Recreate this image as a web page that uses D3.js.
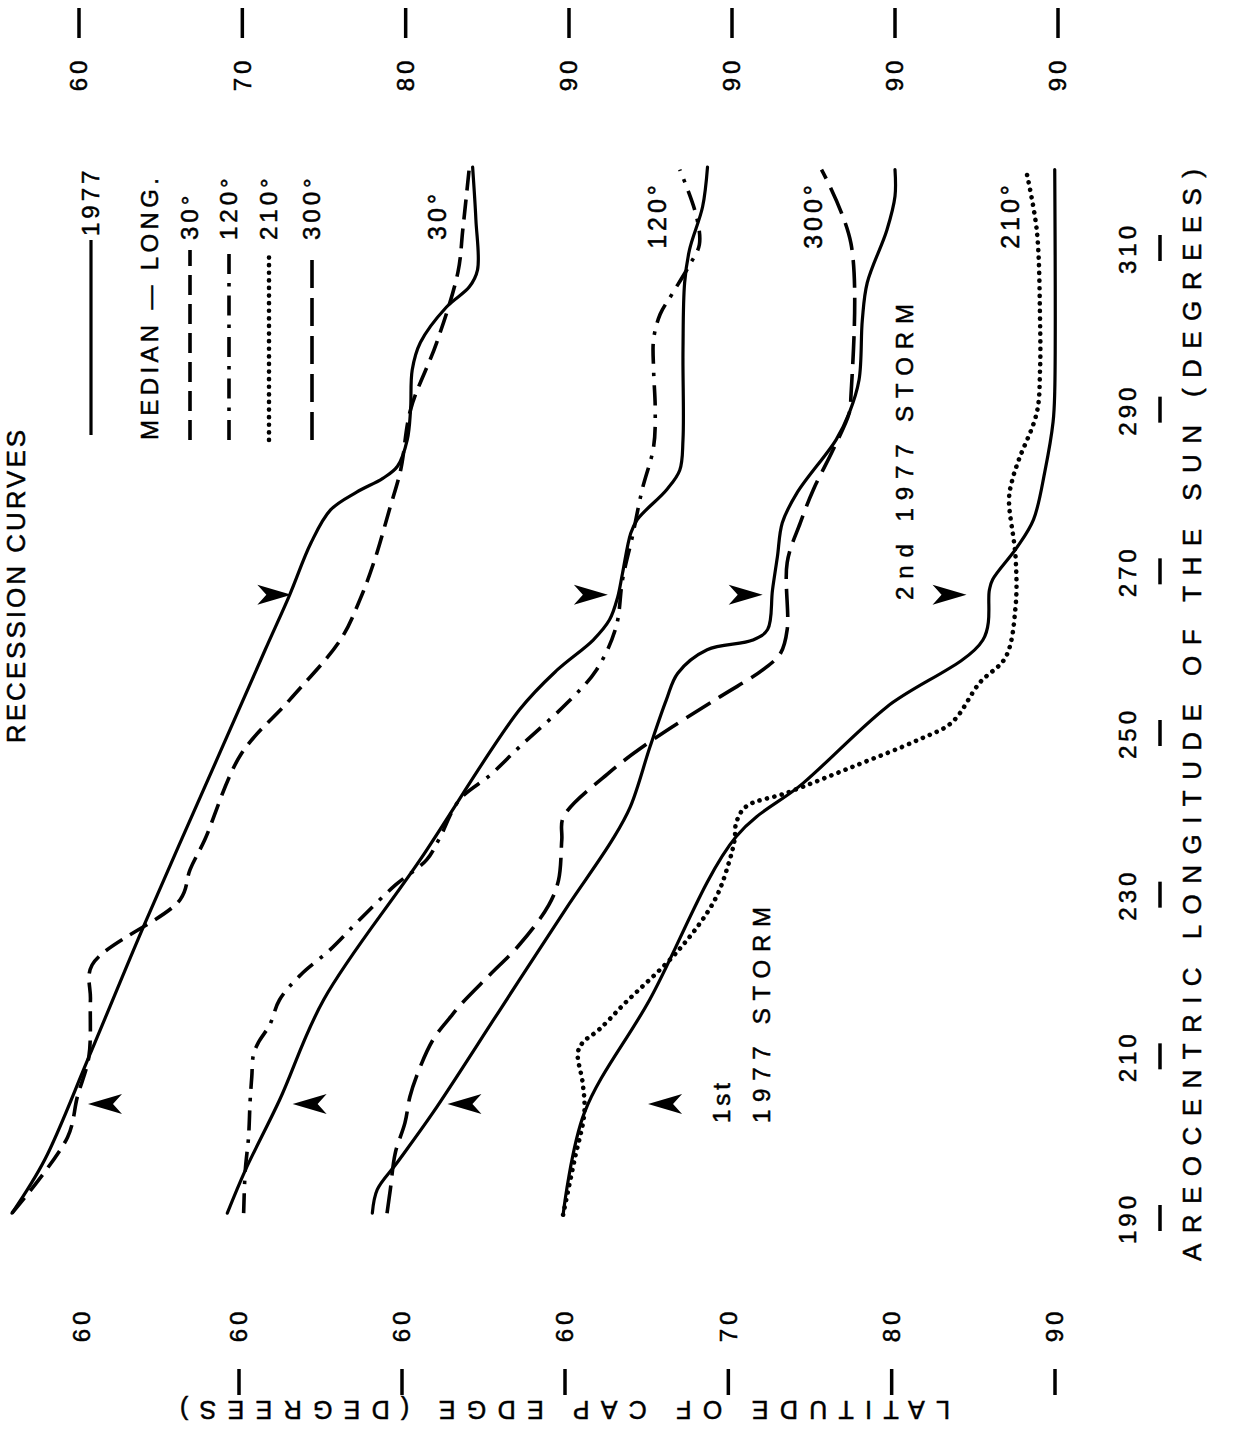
<!DOCTYPE html>
<html>
<head>
<meta charset="utf-8">
<script src="https://cdn.jsdelivr.net/npm/d3@7"></script>
<style>
  body { margin: 0; background: #fff; }
  svg text { font-family: "Liberation Sans", Arial, Helvetica, sans-serif; fill: #000; stroke: #000; stroke-width: 0.5px; }
</style>
</head>
<body>
<div id="chart"></div>
<script>
// ---- data: [Ls, latitude] pairs, one array per curve ----
// panel 0: 1977 vs median at 30 deg
var solid30 = [[190.6,55.9],[197.2,57.9],[209.9,60.6],[226.3,64.0],[247.9,68.7],[260.3,71.4],[267.1,72.9],
  [273.5,74.2],[277.6,75.4],[279.8,77.0],[281.5,78.6],[283.0,79.5],[286.3,80.1],[290.0,80.3],[294.9,80.4],[298.3,80.9],
  [302.7,82.5],[305.2,83.9],[307.3,84.4],[313.5,84.3],[320.0,84.1]];
var median30 = [[190.6,55.9],[200.0,59.3],[205.0,59.9],[209.9,60.6],[217.0,60.7],[221.3,60.8],[229.4,66.2],
  [233.1,66.8],[236.8,67.7],[247.3,69.9],[254.1,72.9],[261.5,76.0],[266.5,77.2],[271.4,78.1],[277.6,79.0],
  [282.6,79.7],[290.0,80.3],[298.3,81.9],[307.0,83.2],[312.3,83.5],[320.0,83.9]];
// panel 1: 1977 vs median at 120 deg
var solid120 = [[190.6,59.1],[195.9,60.2],[204.6,62.3],[217.0,65.0],[234.3,70.9],[252.9,77.0],[257.8,79.3],
  [261.5,81.5],[264.0,82.5],[266.8,83.0],[269.8,83.3],[274.7,83.8],[276.4,84.2],[280.1,86.0],[282.5,86.8],
  [286.3,87.0],[297.4,87.0],[305.7,87.1],[309.8,87.4],[315.1,88.2],[320.0,88.5]];
var median120 = [[190.6,60.1],[195.9,60.2],[200.0,60.4],[204.6,60.5],[207.5,60.6],[210.2,60.7],[211.7,61.0],
  [213.9,61.7],[217.0,62.3],[220.1,63.6],[223.2,65.4],[226.9,67.2],[231.2,69.4],[234.3,71.3],[237.0,72.1],
  [241.7,73.3],[244.8,75.2],[248.3,77.0],[253.7,79.9],[257.8,81.7],[263.1,82.9],[269.0,83.3],[274.3,83.9],
  [280.1,84.5],[285.4,85.2],[290.0,85.3],[294.9,85.2],[298.7,85.2],[301.8,85.6],[304.2,86.3],[307.9,87.4],
  [310.4,88.0],[314.1,87.8],[319.7,86.8]];
// panel 2: 1977 vs median at 300 deg
var solid300 = [[190.6,58.0],[193.5,58.3],[196.8,59.5],[203.0,61.7],[215.7,65.8],[228.1,69.8],[236.8,72.7],
  [240.9,73.8],[248.3,75.0],[254.1,76.0],[257.4,76.7],[260.3,78.5],[261.5,81.3],[262.8,82.2],[267.7,82.5],
  [271.8,82.8],[276.0,83.1],[279.7,84.0],[286.3,86.4],[289.6,87.2],[293.7,87.8],[301.1,88.0],[305.7,88.3],
  [312.2,89.5],[316.4,90.0],[319.7,90.0]];
var median300 = [[190.6,58.9],[193.5,59.1],[198.0,59.4],[201.8,60.0],[205.0,60.3],[207.5,60.7],[212.0,61.7],
  [214.9,62.8],[216.6,63.5],[220.1,65.2],[223.8,67.0],[228.7,68.8],[231.8,69.4],[236.8,69.6],[239.6,69.7],
  [245.1,72.5],[249.2,75.2],[254.5,79.3],[257.8,81.9],[259.9,83.0],[262.8,83.4],[271.1,83.4],[276.0,84.2],
  [280.1,85.0],[285.0,86.2],[289.6,87.2],[291.6,87.3],[310.6,87.3],[319.7,85.5]];
// panel 3: 1977 vs median at 210 deg
var solid210 = [[190.4,59.7],[203.0,61.0],[217.0,65.0],[237.2,70.3],[243.8,74.4],[253.2,79.5],[261.5,85.4],
  [267.7,85.8],[269.0,86.0],[273.0,87.5],[276.4,88.5],[282.4,89.2],[288.5,89.7],[292.2,89.8],[319.7,89.8]];
var median210 = [[190.4,59.7],[197.2,60.4],[203.0,61.0],[206.7,60.9],[210.4,60.6],[211.7,60.9],[213.3,61.9],
  [216.4,63.4],[223.2,66.8],[229.4,69.0],[234.3,69.9],[236.8,70.2],[238.9,70.3],[240.9,70.9],[242.6,73.4],
  [245.8,77.4],[249.2,81.5],[251.3,83.5],[256.2,85.2],[259.4,86.8],[265.6,87.4],[271.8,87.4],[278.9,87.0],
  [281.3,87.2],[283.8,87.6],[289.6,88.7],[294.9,88.9],[301.1,88.9],[312.2,88.7],[319.1,88.1]];

// storm markers: Ls of arrow, and latitude of the arrow tip in each panel
var storm1Ls = 204.1, storm1Tip = [60.55, 63.1, 62.6, 64.9];
var storm2Ls = 267.1, storm2Tip = [73.0, 82.4, 81.9, 84.4];

// axis ticks
var lsTicks = [190, 210, 230, 250, 270, 290, 310];
var topTicks = [[0,60],[0,70],[0,80],[0,90],[1,90],[2,90],[3,90]];      // [panel, latitude]
var bottomTicks = [[0,60],[1,60],[2,60],[3,60],[3,70],[3,80],[3,90]];
var curveLabels = ["30\u00b0", "120\u00b0", "300\u00b0", "210\u00b0"];
var legendLabels = ["30\u00b0", "120\u00b0", "210\u00b0", "300\u00b0"];

// ---- drawing ----
var width = 1233, height = 1430;
var panelShift = 163;

var svg = d3.select("#chart").append("svg")
  .attr("width", width)
  .attr("height", height);

var yLs = d3.scaleLinear().domain([190, 310]).range([1218, 248]);
var xLat = d3.scaleLinear().domain([60, 90]).range([79, 569]);
function px(panel, lat) { return xLat(lat) + panel * panelShift; }

var styles = {
  solid:   { dash: null,            width: 3.2, cap: "round" },
  d30:     { dash: "20,9",          width: 3.6, cap: "butt" },
  d120:    { dash: "20,9,3.5,9",    width: 3.6, cap: "butt" },
  d210:    { dash: "0.1,7.5",       width: 4.6, cap: "round" },
  d300:    { dash: "28,10",         width: 3.6, cap: "butt" }
};

var series = [
  { panel: 0, data: solid30,   style: "solid" },
  { panel: 0, data: median30,  style: "d30" },
  { panel: 1, data: solid120,  style: "solid" },
  { panel: 1, data: median120, style: "d120" },
  { panel: 2, data: solid300,  style: "solid" },
  { panel: 2, data: median300, style: "d300" },
  { panel: 3, data: solid210,  style: "solid" },
  { panel: 3, data: median210, style: "d210" }
];

series.forEach(function(s) {
  var st = styles[s.style];
  var line = d3.line()
    .x(function(d) { return px(s.panel, d[1]); })
    .y(function(d) { return yLs(d[0]); })
    .curve(d3.curveCatmullRom.alpha(0.5));
  svg.append("path")
    .attr("d", line(s.data))
    .attr("fill", "none")
    .attr("stroke", "#000")
    .attr("stroke-width", st.width)
    .attr("stroke-linecap", st.cap)
    .attr("stroke-linejoin", "round")
    .attr("stroke-dasharray", st.dash);
});

// arrowheads (barbed)
function arrow(x, y, dir) {
  // dir = 1 points right, -1 points left
  var p = [[0,0],[-34,-10],[-25,0],[-34,10]].map(function(q) { return [x + dir * q[0], y + q[1]]; });
  svg.append("path")
    .attr("d", "M" + p.join("L") + "Z")
    .attr("fill", "#000");
}
storm1Tip.forEach(function(t, i) { arrow(px(i, t), yLs(storm1Ls), -1); });
storm2Tip.forEach(function(t, i) { arrow(px(i, t), yLs(storm2Ls), 1); });

// rotated text helper
function vtext(x, y, str, size, anchor, spacing, rot) {
  return svg.append("text")
    .attr("transform", "translate(" + x + "," + y + ") rotate(" + (rot == null ? -90 : rot) + ")")
    .attr("text-anchor", anchor || "middle")
    .attr("dy", "0.35em")
    .attr("font-size", size)
    .attr("letter-spacing", spacing || 0)
    .text(str);
}

// latitude ticks, top
topTicks.forEach(function(t) {
  var x = px(t[0], t[1]);
  svg.append("line").attr("x1", x).attr("x2", x).attr("y1", 8).attr("y2", 38)
    .attr("stroke", "#000").attr("stroke-width", 3.5);
  vtext(x, 74, String(t[1]), 24, "middle", 4);
});
// latitude ticks, bottom
bottomTicks.forEach(function(t, i) {
  var x = px(t[0], t[1]) - 3;
  if (i > 0) {
    svg.append("line").attr("x1", x).attr("x2", x).attr("y1", 1369).attr("y2", 1395)
      .attr("stroke", "#000").attr("stroke-width", 3.5);
  }
  vtext(i === 0 ? x + 6 : x, 1325, String(t[1]), 24, "middle", 4);
});
vtext(565, 1410, "LATITUDE OF CAP EDGE (DEGREES)", 25, "middle", 0, 180)
  .attr("textLength", 770).attr("lengthAdjust", "spacing");

// Ls axis
lsTicks.forEach(function(v) {
  var y = yLs(v);
  svg.append("line").attr("x1", 1160).attr("x2", 1160).attr("y1", y - 13).attr("y2", y + 13)
    .attr("stroke", "#000").attr("stroke-width", 3.5);
  vtext(1128, y, String(v), 24, "middle", 4);
});
vtext(1192, 715, "AREOCENTRIC LONGITUDE OF THE SUN (DEGREES)", 26, "middle", 0)
  .attr("textLength", 1092).attr("lengthAdjust", "spacing");

// title (at the left edge)
vtext(16, 585, "RECESSION CURVES", 26, "middle", 3);

// curve labels near the top
[437, 657, 813, 1010].forEach(function(x, i) { vtext(x, 215, curveLabels[i], 25, "middle", 4); });

// storm annotations
vtext(722, 1123, "1st", 24, "start", 4);
vtext(762, 1123, "1977 STORM", 24, "start", 0).attr("textLength", 216).attr("lengthAdjust", "spacing");
vtext(905, 600, "2nd 1977 STORM", 24, "start", 0).attr("textLength", 296).attr("lengthAdjust", "spacing");

// legend
var legX = [91, 150, 190, 229, 269, 312];
svg.append("line").attr("x1", legX[0]).attr("x2", legX[0]).attr("y1", 435).attr("y2", 240)
  .attr("stroke", "#000").attr("stroke-width", 3.2);
vtext(legX[0], 236, "1977", 24, "start", 4);
vtext(legX[1], 440, "MEDIAN \u2014 LONG.", 24, "start", 0).attr("textLength", 262).attr("lengthAdjust", "spacing");
["d30", "d120", "d210", "d300"].forEach(function(k, i) {
  var st = styles[k];
  svg.append("line").attr("x1", legX[i + 2]).attr("x2", legX[i + 2]).attr("y1", 440).attr("y2", 250)
    .attr("stroke", "#000").attr("stroke-width", st.width)
    .attr("stroke-linecap", st.cap).attr("stroke-dasharray", st.dash);
  vtext(legX[i + 2], 240, legendLabels[i], 24, "start", 4);
});
</script>
</body>
</html>
